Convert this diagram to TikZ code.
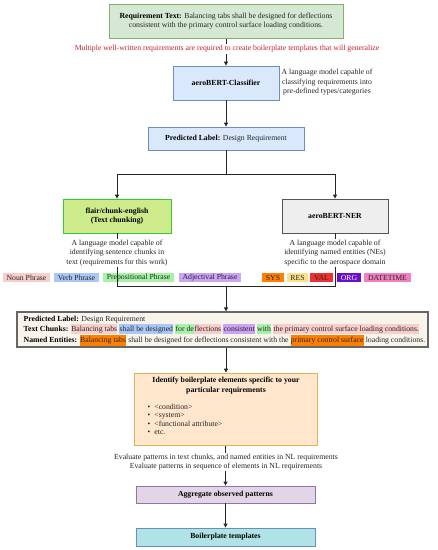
\documentclass[tikz,border=0pt]{standalone}
\usepackage{fontspec}
\setmainfont{Liberation Serif}
\usetikzlibrary{arrows.meta,backgrounds}
\definecolor{tgfill}{HTML}{D5E8D4}\definecolor{tgdraw}{HTML}{82B366}
\definecolor{bfill}{HTML}{DAE8FC}\definecolor{bdraw}{HTML}{6C8EBF}
\definecolor{ffill}{HTML}{CDEB8B}\definecolor{fdraw}{HTML}{33CC33}
\definecolor{nfill}{HTML}{EEEEEE}\definecolor{ndraw}{HTML}{555555}
\definecolor{gfill}{HTML}{F8F4EC}\definecolor{gdraw}{HTML}{666666}
\definecolor{ofill}{HTML}{FFE6CC}\definecolor{odraw}{HTML}{D6B656}
\definecolor{afill}{HTML}{E1D5E7}\definecolor{adraw}{HTML}{9673A6}
\definecolor{bpfill}{HTML}{B0E3E6}\definecolor{bpdraw}{HTML}{6C8EBF}
\definecolor{redtext}{HTML}{C8202F}
\definecolor{txt}{HTML}{262626}
\definecolor{np}{HTML}{F8CECC}\definecolor{vp}{HTML}{A9C8F8}
\definecolor{pp}{HTML}{A6F2A6}\definecolor{ap}{HTML}{CCA3F5}
\definecolor{sys}{HTML}{FF8000}\definecolor{res}{HTML}{FFE08A}
\definecolor{val}{HTML}{F03030}\definecolor{org}{HTML}{6A0DCC}
\definecolor{dt}{HTML}{F47FC0}
\newcommand{\hlc}[2]{{\setlength{\fboxsep}{0.3pt}\colorbox{#1}{\strut #2}}}
\begin{document}
\begin{tikzpicture}[x=1pt,y=-1pt,
  every node/.style={font=\fontsize{7.75}{9.5}\selectfont, inner sep=0pt, text=txt},
  box/.style={draw, line width=0.8pt, rectangle},
  conn/.style={draw=black!85, line width=0.9pt},
  arr/.style={conn, -{Triangle[length=4pt,width=4pt]}},
  desc/.style={align=center, fill=white, inner sep=1pt},
  lg/.style={minimum height=8.5pt, inner xsep=1.5pt}]
\useasboundingbox (0,0) rectangle (438,550);

\node[box, fill=tgfill, draw=tgdraw, minimum width=234, minimum height=34, align=center] (req) at (226,21)
  {\textbf{\color{black}Requirement Text:} Balancing tabs shall be designed for deflections\\consistent with the primary control surface loading conditions.};
\node[fill=white, inner sep=1.5pt, text=redtext] (multi) at (227,49)
  {Multiple well-written requirements are required to create boilerplate templates that will generalize};

\node[box, fill=bfill, draw=bdraw, minimum width=106, minimum height=34] (cls) at (226,83) {\textbf{\color{black}aeroBERT-Classifier}};
\node[align=center] (clsd) at (327,82.5) {A language model capable of\\classifying requirements into\\pre-defined types/categories};

\node[box, fill=bfill, draw=bdraw, minimum width=156, minimum height=23] (pred) at (226,138.5)
  {\textbf{\color{black}Predicted Label:} Design Requirement};

\coordinate (split) at (226,174);

\node[box, fill=ffill, draw=fdraw, minimum width=108, minimum height=34, align=center] (flair) at (117,216)
  {\textbf{\color{black}flair/chunk-english}\\\textbf{\color{black}(Text chunking)}};
\node[box, fill=nfill, draw=ndraw, minimum width=106, minimum height=34] (ner) at (335,216) {\textbf{\color{black}aeroBERT-NER}};

\node[lg, fill=np, minimum width=47] (lg1) at (26.5,277.5) {Noun Phrase};
\node[lg, fill=vp, minimum width=45] (lg2) at (76.5,277.5) {Verb Phrase};
\node[lg, fill=pp, minimum width=71] (lg3) at (138.5,277.5) {Prepositional Phrase};
\node[lg, fill=ap, minimum width=62] (lg4) at (210,277.5) {Adjectival Phrase};
\node[lg, fill=sys, minimum width=22] (lg5) at (273,277.5) {SYS};
\node[lg, fill=res, minimum width=21] (lg6) at (297.5,277.5) {RES};
\node[lg, fill=val, minimum width=23] (lg7) at (321.5,277.5) {VAL};
\node[lg, fill=org, minimum width=24, text=white] (lg8) at (349,277.5) {ORG};
\node[lg, fill=dt, minimum width=47] (lg9) at (387.5,277.5) {DATETIME};

\coordinate (jl) at (117,286);
\coordinate (jr) at (335,286);
\coordinate (jm) at (226,286);
\draw[conn] (flair.south) -- (jl) -- (jr) -- (ner.south);

\node[desc] (flaird) at (117,253) {A language model capable of\\identifying sentence chunks in\\text (requirements for this work)};
\node[desc] (nerd) at (335,253) {A language model capable of\\identifying named entities (NEs)\\specific to the aerospace domain};

\node[box, fill=gfill, draw=gdraw, line width=1.2pt, minimum width=411, minimum height=35] (big) at (222.5,329.5) {};
\node[anchor=west, align=left] (bigt) at (23.5,331) {%
  \textbf{\color{black}Predicted Label:} Design Requirement\\
  \textbf{\color{black}Text Chunks:} \hlc{np}{Balancing tabs} \hlc{vp}{shall be designed} \hlc{pp}{for de}\hlc{np}{flections} \hlc{ap}{consistent} \hlc{pp}{with} \hlc{np}{the primary control surface loading conditions.}\\
  \textbf{\color{black}Named Entities:} \hlc{sys}{Balancing tabs} shall be designed for deflections consistent with the \hlc{sys}{primary control surface} loading conditions.};

\node[box, fill=ofill, draw=odraw, minimum width=183, minimum height=72] (ident) at (225.5,409) {};
\node[align=center] (identt) at (226,385.5)
  {\textbf{\color{black}Identify boilerplate elements specific to your}\\\textbf{\color{black}particular requirements}};
\node[anchor=west, align=left, font=\fontsize{7.75}{8.4}\selectfont] (identl) at (147.5,419.5)
  {\textbullet\hspace{4pt}<condition>\\\textbullet\hspace{4pt}<system>\\\textbullet\hspace{4pt}<functional attribute>\\\textbullet\hspace{4pt}etc.};

\node[desc] (evalt) at (226,462)
  {Evaluate patterns in text chunks, and named entities in NL requirements\\Evaluate patterns in sequence of elements in NL requirements};

\node[box, fill=afill, draw=adraw, minimum width=179, minimum height=17] (agg) at (225.5,494.5) {\textbf{\color{black}Aggregate observed patterns}};
\node[box, fill=bpfill, draw=bpdraw, minimum width=179, minimum height=18] (boil) at (225.5,537) {\textbf{\color{black}Boilerplate templates}};

\begin{pgfonlayer}{background}
\draw[arr] (req.south) -- (req.south |- cls.north);
\draw[arr] (ident.south) -- (agg.north);
\end{pgfonlayer}
\draw[arr] (cls.south) -- (pred.north);
\draw[conn] (pred.south) -- (split);
\draw[arr] (split) -| (flair.north);
\draw[arr] (split) -| (ner.north);
\draw[arr] (jm) -- (jm |- big.north);
\draw[arr] (jm |- big.south) -- (jm |- ident.north);
\draw[arr] (agg.south) -- (boil.north);
\end{tikzpicture}
\end{document}
